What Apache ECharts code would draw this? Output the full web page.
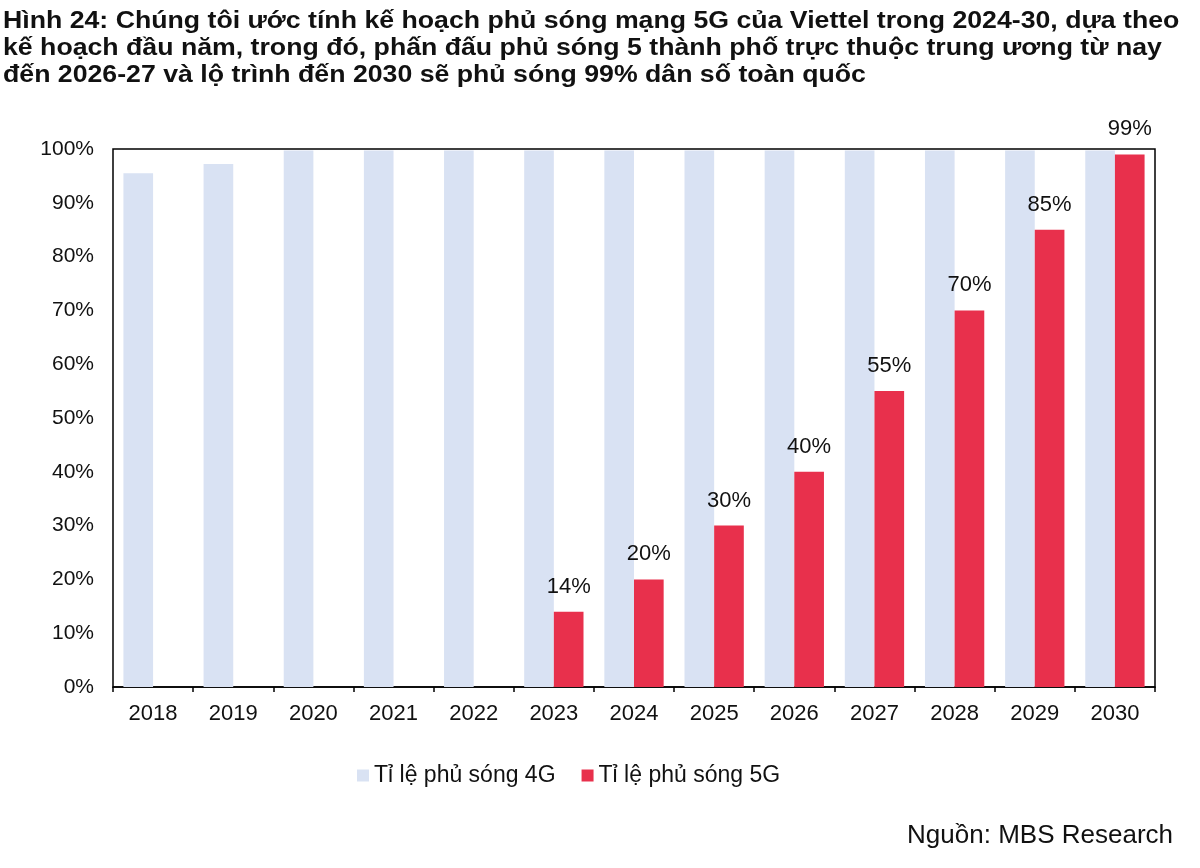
<!DOCTYPE html>
<html><head><meta charset="utf-8">
<script src="https://cdn.jsdelivr.net/npm/echarts@6/dist/echarts.min.js"></script>
<style>html,body{margin:0;padding:0;background:#fff}#c{width:1200px;height:868px}</style>
</head><body><div id="c"></div>
<script>
const categories = ['2018','2019','2020','2021','2022','2023','2024','2025','2026','2027','2028','2029','2030'];
const cover4G = [95.5, 97.2, 99.7, 99.7, 99.7, 99.7, 99.7, 99.7, 99.7, 99.7, 99.7, 99.7, 99.7];
const cover5G = [null, null, null, null, null, 14, 20, 30, 40, 55, 70, 85, 99];
const yTicks = [0,10,20,30,40,50,60,70,80,90,100];
const titleLines = [
  'Hình 24: Chúng tôi ước tính kế hoạch phủ sóng mạng 5G của Viettel trong 2024-30, dựa theo',
  'kế hoạch đầu năm, trong đó, phấn đấu phủ sóng 5 thành phố trực thuộc trung ương từ nay',
  'đến 2026-27 và lộ trình đến 2030 sẽ phủ sóng 99% dân số toàn quốc'
];
const seriesNames = ['Tỉ lệ phủ sóng 4G','Tỉ lệ phủ sóng 5G'];
const sourceText = 'Nguồn: MBS Research';

const FONT = '"Liberation Sans", Arial, sans-serif';
const chart = echarts.init(document.getElementById('c'), null, {renderer:'canvas'});
chart.setOption({
  animation:false,
  backgroundColor:'#fff',
  graphic:[
    {type:'text', x:3, y:8, scaleX:1.16, scaleY:1, originX:0, originY:0,
      style:{text:titleLines.join('\n'), font:'bold 23px '+FONT, fill:'#111', lineHeight:27}},
    {type:'text', right:27, top:823, style:{text:sourceText, font:'26px '+FONT, fill:'#111'}}
  ],
  legend:{
    left:352, top:759, icon:'rect', itemWidth:12, itemHeight:12, itemGap:26,
    textStyle:{fontFamily:FONT, fontSize:23, color:'#111'},
    data:seriesNames
  },
  grid:{left:113, right:45, top:149, bottom:181, show:true, borderColor:'#000', borderWidth:1.5, containLabel:false},
  xAxis:{
    type:'category', data:categories,
    axisLine:{lineStyle:{color:'#000', width:1.5}},
    axisTick:{show:true, length:5, lineStyle:{color:'#000', width:1.5}},
    axisLabel:{fontFamily:FONT, fontSize:22, color:'#111', margin:16}
  },
  yAxis:{
    type:'value', min:0, max:100, interval:10,
    axisLine:{show:false}, axisTick:{show:false}, splitLine:{show:false},
    axisLabel:{fontFamily:FONT, fontSize:21, color:'#111', margin:19, formatter: v => v + '%'}
  },
  series:[
    {name:seriesNames[0], type:'bar', data:cover4G, barGap:'0%', barCategoryGap:'26%', itemStyle:{color:'#d9e2f3'}},
    {name:seriesNames[1], type:'bar', data:cover5G, itemStyle:{color:'#e8304c'},
      label:{show:true, position:'top', distance:14, fontFamily:FONT, fontSize:22, color:'#111', formatter: p => p.value + '%'}}
  ]
});
</script></body></html>
